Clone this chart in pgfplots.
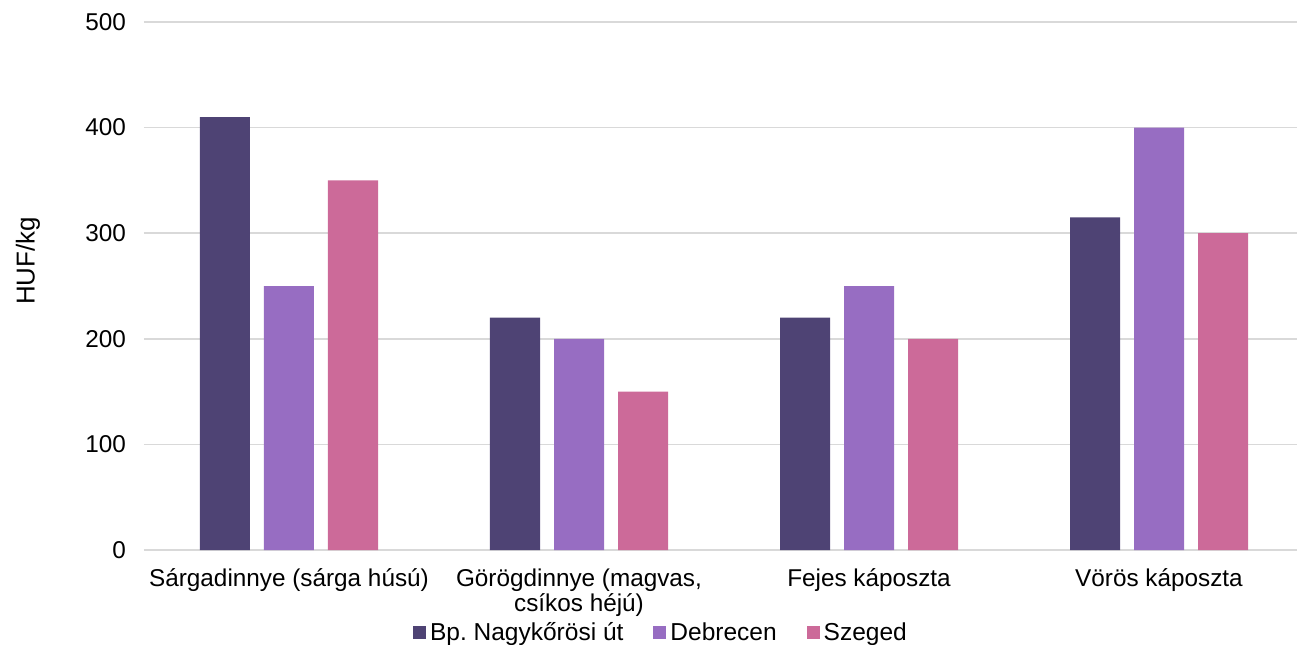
\documentclass[border=0pt]{standalone}
\usepackage{fontspec}
\setmainfont{Liberation Sans}
\usepackage{pgfplots}
\pgfplotsset{compat=1.18}

\definecolor{budapest}{HTML}{4E4374}
\definecolor{debrecen}{HTML}{976DC2}
\definecolor{szeged}{HTML}{CC6A99}
\definecolor{gridgray}{HTML}{D9D9D9}

\begin{document}
\frenchspacing
\begin{tikzpicture}
\useasboundingbox (-72bp,-47.5bp) rectangle (576.5bp,275bp);
\begin{axis}[
    scale only axis,
    width=580bp, height=264bp,
    ybar=7bp, bar width=25bp,
    xmin=-0.5, xmax=3.5,
    ymin=0, ymax=500,
    ytick={0,100,...,500},
    xtick=data,
    xticklabels={Sárgadinnye (sárga húsú),
                 {Görögdinnye (magvas,\\csíkos héjú)},
                 Fejes káposzta,
                 Vörös káposzta},
    x tick label style={align=center, font=\fontsize{12.2}{12.5}\selectfont, yshift=-6bp},
    y tick label style={font=\fontsize{12.2}{14}\selectfont, xshift=-5.5bp},
    /pgf/number format/assume math mode=true,
    major tick length=0pt,
    ymajorgrids,
    grid style={gridgray, line width=0.75bp},
    axis x line*=bottom,
    axis y line*=left,
    y axis line style={draw=none},
    x axis line style={gridgray, line width=0.75bp, -},
    ylabel={HUF/kg},
    every axis y label/.style={at={(0,0.5)}, xshift=-58bp, yshift=12.5bp,
        rotate=90, anchor=center, font=\fontsize{13}{15}\selectfont},
    legend columns=3,
    legend style={draw=none, fill=none, at={(0.4465,-0.157)}, anchor=center,
        font=\fontsize{12.3}{14}\selectfont,
        /tikz/every even column/.append style={column sep=13bp}},
    legend cell align=left,
    legend image code/.code={\fill[#1] (0bp,-3.25bp) rectangle (6.5bp,3.25bp);},
]
\addplot[fill=budapest, draw=none] coordinates {(0,410) (1,220) (2,220) (3,315)};
\addplot[fill=debrecen, draw=none] coordinates {(0,250) (1,200) (2,250) (3,400)};
\addplot[fill=szeged, draw=none] coordinates {(0,350) (1,150) (2,200) (3,300)};
\legend{Bp. Nagykőrösi út, Debrecen, Szeged}
\end{axis}
\end{tikzpicture}
\end{document}
